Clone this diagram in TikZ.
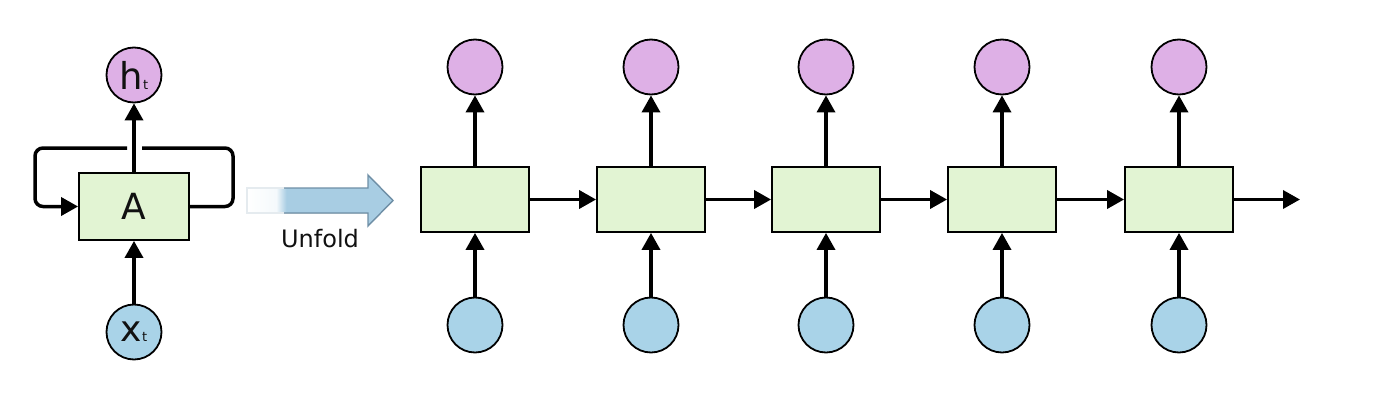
\documentclass[tikz,border=0pt]{standalone}
\usepackage{fontspec}
\setmainfont{DejaVu Sans}
\usetikzlibrary{arrows.meta}
\definecolor{cellg}{HTML}{E2F4D3}
\definecolor{hpink}{HTML}{DEB0E6}
\definecolor{xblue}{HTML}{A9D3E8}
\definecolor{ublue}{HTML}{A8CDE3}
\definecolor{uedge}{HTML}{6F8FA6}
\definecolor{txt}{HTML}{111111}
\pgfdeclarehorizontalshading{unfoldsh}{100bp}{color(0bp)=(white); color(25bp)=(white); color(35bp)=(ublue!12); color(38.5bp)=(ublue); color(100bp)=(ublue)}
\begin{document}
\begin{tikzpicture}[x=1pt,y=-1pt,
  cell/.style={draw=black, line width=1.8pt, fill=cellg, minimum width=108pt, minimum height=65pt, inner sep=0pt},
  hcirc/.style={circle, draw=black, line width=1.8pt, fill=hpink, minimum size=55pt, inner sep=0pt},
  xcirc/.style={circle, draw=black, line width=1.8pt, fill=xblue, minimum size=55pt, inner sep=0pt},
  flow/.style={line width=3.5pt, -{Triangle[length=17pt,width=18pt]}},
  loopline/.style={line width=3.5pt, rounded corners=8pt}
]
\useasboundingbox (0,0) rectangle (1400,407);

% ---- folded RNN ----
\node[cell, minimum width=110pt, minimum height=67pt, text=txt] (A) at (134,206.5) {\fontsize{36}{36}\selectfont A};
\node[hcirc, text=txt] (ht) at (134,75) {\fontsize{37}{37}\selectfont h\fontsize{13}{13}\selectfont t};
\node[xcirc, text=txt] (xt) at (134,332) {\fontsize{36}{36}\selectfont x\fontsize{13}{13}\selectfont t};
\draw[flow] (A.north) -- (ht.south);
\draw[flow] (xt.north) -- (A.south);
\coordinate (gapR) at (142,148);
\coordinate (gapL) at (127,148);
\draw[loopline] (A.east) -- (233,206.5) -- (233,148) -- (gapR);
\draw[loopline, -{Triangle[length=17pt,width=18pt]}] (gapL) -- (35,148) -- (35,206.5) -- (A.west);

% ---- unfold arrow ----
\fill[shading=unfoldsh] (247,188) -- (368,188) -- (368,175) -- (393,200.5) -- (368,226) -- (368,213) -- (247,213) -- cycle;
\draw[uedge, line width=1.4pt, line join=miter] (284,188) -- (368,188) -- (368,175) -- (393,200.5) -- (368,226) -- (368,213) -- (284,213);
\draw[uedge!18, line width=1.2pt] (284,188) -- (247,188) -- (247,213) -- (284,213);
\node[font=\fontsize{24}{24}\selectfont, text=txt] (unf) at (320,239) {Unfold};

% ---- unfolded chain ----
\foreach \i/\x in {1/475,2/651,3/826,4/1002,5/1179}{
  \node[cell] (c\i) at (\x,199.5) {};
  \node[hcirc] (h\i) at (\x,67) {};
  \node[xcirc] (x\i) at (\x,325) {};
  \draw[flow] (c\i.north) -- (h\i.south);
  \draw[flow] (x\i.north) -- (c\i.south);
}
\foreach \i/\j in {1/2,2/3,3/4,4/5}{
  \draw[flow] (c\i.east) -- (c\j.west);
}
\coordinate (tail) at (1300,199.5);
\draw[flow] (c5.east) -- (tail);
\end{tikzpicture}
\end{document}
